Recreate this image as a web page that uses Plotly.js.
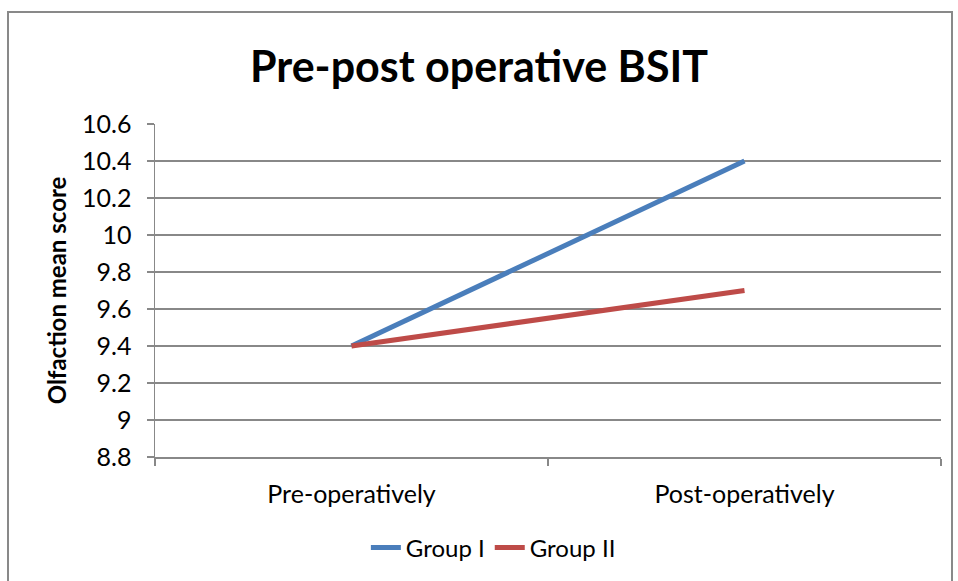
<!DOCTYPE html>
<html>
<head>
<meta charset="utf-8">
<script src="https://cdn.plot.ly/plotly-3.0.1.min.js"></script>
<style>
  html, body { margin: 0; padding: 0; background: #fff; }
  #wrap { position: relative; width: 958px; height: 581px; overflow: hidden; }
  #chart { width: 958px; height: 581px; }
  #frame { position: absolute; left: 7px; top: 11px; width: 942px; height: 620px;
           border: 2px solid #898989; pointer-events: none; }
</style>
</head>
<body>
<div id="wrap">
  <div id="chart"></div>
  <div id="frame"></div>
</div>
<script>
const categories = ["Pre-operatively", "Post-operatively"];
const groupI = [9.4, 10.4];
const groupII = [9.4, 9.7];
const seriesNames = ["Group I", "Group II"];
const yTicks = [8.8, 9, 9.2, 9.4, 9.6, 9.8, 10, 10.2, 10.4, 10.6];
const yTickLabels = ["8.8", "9", "9.2", "9.4", "9.6", "9.8", "10", "10.2", "10.4", "10.6"];

const font = "Lato, 'Open Sans', 'Liberation Sans', sans-serif";

const traces = [
  { x: categories, y: groupI, name: seriesNames[0], type: "scatter", mode: "lines",
    line: { color: "#4A7EBB", width: 5 } },
  { x: categories, y: groupII, name: seriesNames[1], type: "scatter", mode: "lines",
    line: { color: "#BE4B48", width: 5 } }
];

const layout = {
  width: 958, height: 581,
  margin: { l: 155, r: 17, t: 124, b: 124 },
  paper_bgcolor: "#fff", plot_bgcolor: "#fff",
  showlegend: true,
  font: { family: font, color: "#000" },
  title: { text: "<b>Pre-post operative BSIT</b>", font: { size: 43, family: font, color: "#000" },
           x: 0.5, xanchor: "center", y: 0.885, yanchor: "middle", yref: "container" },
  xaxis: {
    type: "category", range: [-0.5, 1.5],
    tickson: "boundaries", ticks: "outside", ticklen: 7, tickcolor: "#888", tickwidth: 1.5,
    showline: true, linecolor: "#888", linewidth: 1.5,
    showgrid: false, zeroline: false,
    tickfont: { size: 25, family: font, color: "#000" },
    ticklabelstandoff: 14
  },
  yaxis: {
    range: [8.8, 10.6], tickvals: yTicks, ticktext: yTickLabels,
    ticks: "outside", ticklen: 7, tickcolor: "#888", tickwidth: 1.5,
    showline: true, linecolor: "#888", linewidth: 1.5,
    showgrid: true, gridcolor: "#888", gridwidth: 1.5, zeroline: false,
    tickfont: { size: 25, family: font, color: "#000" },
    ticklabelstandoff: 10,
    title: { text: "<b>Olfaction mean score</b>", font: { size: 24, family: font, color: "#000" }, standoff: 8 }
  },
  legend: {
    orientation: "h", x: 0.515, xanchor: "center", xref: "container",
    y: 0.057, yanchor: "middle", yref: "container",
    font: { size: 24, family: font, color: "#000" },
    itemwidth: 30, tracegroupgap: 0, bgcolor: "rgba(0,0,0,0)"
  }
};

Plotly.newPlot("chart", traces, layout, { displayModeBar: false, staticPlot: true });
</script>
</body>
</html>
